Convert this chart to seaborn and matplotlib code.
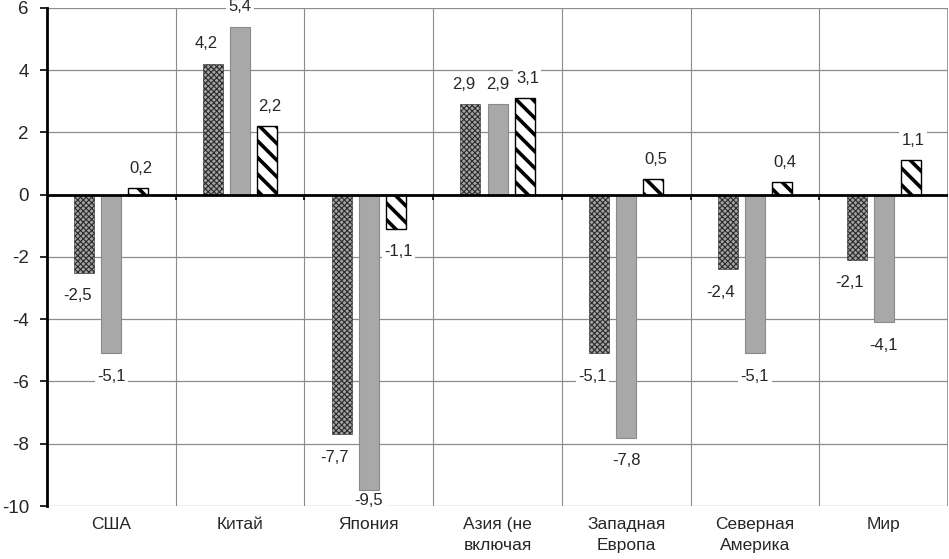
import numpy as np
import pandas as pd
import matplotlib
matplotlib.use('Agg')
import matplotlib.pyplot as plt
import seaborn as sns

# --- data ---
categories = ['США', 'Китай', 'Япония', 'Азия (не\nвключая',
              'Западная\nЕвропа', 'Северная\nАмерика', 'Мир']
series_names = ['ряд 1', 'ряд 2', 'ряд 3']
series_1 = [-2.5, 4.2, -7.7, 2.9, -5.1, -2.4, -2.1]
series_2 = [-5.1, 5.4, -9.5, 2.9, -7.8, -5.1, -4.1]
series_3 = [0.2, 2.2, -1.1, 3.1, 0.5, 0.4, 1.1]
y_ticks = [-10, -8, -6, -4, -2, 0, 2, 4, 6]

df = pd.DataFrame({
    'category': categories * 3,
    'series': np.repeat(series_names, len(categories)),
    'value': series_1 + series_2 + series_3,
})

sns.set_style('white')
plt.rcParams['font.family'] = ['Liberation Sans', 'DejaVu Sans']
plt.rcParams['axes.unicode_minus'] = False

fig = plt.figure(figsize=(9.49, 5.59), dpi=100)
ax = fig.add_axes([0.0495, 0.0948, 0.9495, 0.891])

sns.barplot(data=df, x='category', y='value', hue='series', order=categories,
            hue_order=series_names, width=0.63, gap=0.26, legend=False,
            saturation=1, ax=ax)

styles = [
    dict(facecolor='#a4a4a4', edgecolor='#2a2a2a', hatch='xxxxxx', lw=0.4, hlw=0.8),
    dict(facecolor='#a8a8a8', edgecolor='#8a8a8a', hatch=None, lw=0.8, hlw=1.0),
    dict(facecolor='white', edgecolor='black', hatch='\\\\', lw=1.0, hlw=2.6),
]
for cont, st in zip(ax.containers, styles):
    for p in cont:
        p.set_facecolor(st['facecolor'])
        p.set_edgecolor(st['edgecolor'])
        p.set_linewidth(st['lw'])
        if st['hatch']:
            p.set_hatch(st['hatch'])
            if hasattr(p, 'set_hatch_linewidth'):
                p.set_hatch_linewidth(st['hlw'])

# value labels, Excel style: comma decimals on white boxes
x_shift = [-5, 0, 2]
for cont, dx in zip(ax.containers, x_shift):
    for p in cont:
        v = p.get_y() if p.get_y() < 0 else p.get_height()
        x = p.get_x() + p.get_width() / 2
        if v >= 0:
            dy, va = 9, 'bottom'
        else:
            # keep the label inside the plot area near the bottom edge
            dy, va = (-11, 'top') if v > -9 else (-2, 'top')
        ax.annotate(f'{v:.1f}'.replace('.', ','), (x, v), xytext=(dx, dy),
                    textcoords='offset points', ha='center', va=va,
                    fontsize=12, zorder=5,
                    bbox=dict(boxstyle='square,pad=0.15', fc='white', ec='none'))

ax.set_xlim(-0.5, len(categories) - 0.5)
ax.set_ylim(-10, 6)
ax.set_yticks(y_ticks)
ax.set_yticklabels([str(t) for t in y_ticks])
ax.set_xticks(range(len(categories)))
ax.set_xticklabels(categories, fontsize=12.5, linespacing=1.5)
ax.set_xlabel('')
ax.set_ylabel('')

ax.set_xticks(np.arange(0.5, len(categories) - 0.5, 1), minor=True)
ax.tick_params(axis='x', which='both', length=0, pad=8)
ax.tick_params(axis='y', length=5, width=1.2, color='black', direction='out',
               pad=8, labelsize=13.5, left=True)

ax.set_axisbelow(True)
ax.grid(axis='y', which='major', color='#8c8c8c', lw=0.9)
ax.grid(axis='x', which='minor', color='#8c8c8c', lw=0.8)
ax.axvline(len(categories) - 0.5, color='#8c8c8c', lw=1.2)

for side in ['top', 'right', 'bottom']:
    ax.spines[side].set_visible(False)
ax.spines['left'].set_linewidth(2)
ax.spines['left'].set_color('black')

ax.axhline(0, color='black', lw=2, zorder=3)
ax.vlines(np.arange(0.5, len(categories) - 0.5, 1), -0.17, 0, color='black',
          lw=1.2, zorder=3)

fig.savefig('out.png', dpi=100)
